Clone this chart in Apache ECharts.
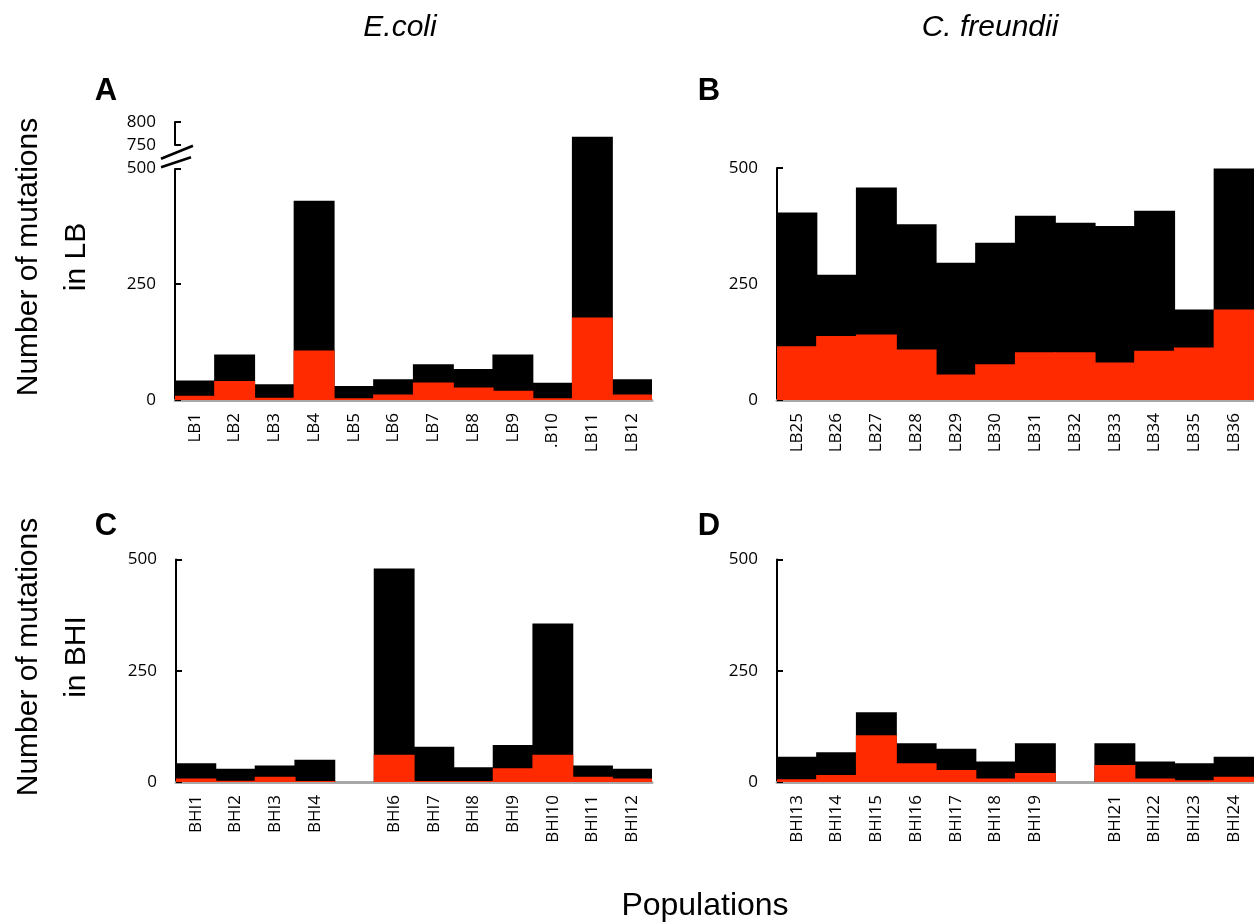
<!DOCTYPE html>
<html><head><meta charset="utf-8">
<script src="https://cdn.jsdelivr.net/npm/echarts@6/dist/echarts.min.js"></script>
<style>html,body{margin:0;padding:0;background:#fff}#c{width:1254px;height:923px}</style>
</head><body><div id="c"></div>
<script>
// ---- data ----
const lbEcoliCats = ['LB1','LB2','LB3','LB4','LB5','LB6','LB7','LB8','LB9','.B10','LB11','LB12'];
const lbEcoliTotal = [42, 98, 34, 430, 30, 45, 77, 67, 98, 37, 768, 45];
const lbEcoliRed   = [9, 41, 5, 107, 4, 12, 38, 27, 20, 4, 178, 12];

const lbCfCats = ['LB25','LB26','LB27','LB28','LB29','LB30','LB31','LB32','LB33','LB34','LB35','LB36'];
const lbCfTotal = [404, 270, 458, 379, 296, 339, 397, 382, 375, 408, 195, 499];
const lbCfRed   = [116, 138, 141, 109, 55, 77, 103, 103, 81, 106, 113, 195];

const bhiEcoliCats = ['BHI1','BHI2','BHI3','BHI4','','BHI6','BHI7','BHI8','BHI9','BHI10','BHI11','BHI12'];
const bhiEcoliTotal = [42, 30, 37, 50, null, 480, 79, 33, 83, 356, 37, 30];
const bhiEcoliRed   = [8, 3, 12, 2, null, 61, 2, 2, 31, 61, 12, 8];

const bhiCfCats = ['BHI13','BHI14','BHI15','BHI16','BHI17','BHI18','BHI19','','BHI21','BHI22','BHI23','BHI24'];
const bhiCfTotal = [57, 67, 157, 87, 75, 46, 87, null, 87, 46, 42, 57];
const bhiCfRed   = [6, 16, 105, 42, 27, 8, 20, null, 38, 8, 4, 12];

const yTicksBreak = [0, 250, 500, 750, 800];
const yTicks = [0, 250, 500];
const axisBreak = {start: 500, end: 750, gap: 50};

// ---- chart ----
const chart = echarts.init(document.getElementById('c'), null, {renderer: 'canvas'});
const BLACK = '#000000', RED = '#ff2a00';
const labelFont = 'Open Sans';

const grids = [
  {left: 175, top: 122, width: 477, height: 278},
  {left: 777, top: 168, width: 478, height: 232},
  {left: 176, top: 559.5, width: 476, height: 222.5},
  {left: 777, top: 559.5, width: 478, height: 222.5}
];
const cats = [lbEcoliCats, lbCfCats, bhiEcoliCats, bhiCfCats];
const totals = [lbEcoliTotal, lbCfTotal, bhiEcoliTotal, bhiCfTotal];
const reds = [lbEcoliRed, lbCfRed, bhiEcoliRed, bhiCfRed];

const xAxes = cats.map((c, i) => ({
  type: 'category', gridIndex: i, data: c, offset: 1,
  axisLine: {show: true, lineStyle: {color: '#a8a8a8', width: 3}},
  axisTick: {show: false},
  axisLabel: {rotate: 90, interval: 0, margin: 12, fontSize: 17, fontFamily: labelFont, color: '#000'}
}));
const yAxes = cats.map((c, i) => {
  const a = {
    type: 'value', gridIndex: i, min: 0, max: 500, interval: 250,
    axisLine: {show: true, lineStyle: {color: '#000', width: 2}},
    axisTick: {show: true, inside: true, length: 6, lineStyle: {color: '#000', width: 2}},
    splitLine: {show: false},
    axisLabel: {fontSize: 17, fontFamily: labelFont, color: '#000', margin: 19}
  };
  if (i === 0) {
    a.max = 800;
    delete a.interval;
    a.breaks = [axisBreak];
    a.breakArea = {show: false};
    a.breakLabelLayout = {moveOverlap: false};
    a.axisLabel.customValues = yTicksBreak;
    a.axisTick.customValues = yTicksBreak;
  }
  return a;
});
const series = [];
cats.forEach((c, i) => {
  series.push({type: 'bar', xAxisIndex: i, yAxisIndex: i, data: totals[i], barWidth: '103%',
    itemStyle: {color: BLACK}, barGap: '-100%', silent: true});
  series.push({type: 'bar', xAxisIndex: i, yAxisIndex: i, data: reds[i], barWidth: '103%',
    itemStyle: {color: RED}, barGap: '-100%', silent: true});
});

chart.setOption({
  animation: false,
  backgroundColor: '#fff',
  grid: grids,
  xAxis: xAxes,
  yAxis: yAxes,
  series: series
});

function txt(x, y, text, font, rot) {
  return {type: 'text', x: x, y: y, rotation: rot || 0, z: 100,
    style: {text: text, font: font, fill: '#000', textAlign: 'center', textVerticalAlign: 'middle', align: 'center', verticalAlign: 'middle'}};
}
const g = [];
const titleFont = 'italic 30px "Liberation Sans"';
const letterFont = 'bold 31px "Liberation Sans"';
const nameFont = '30px "Liberation Sans"';
g.push(txt(400, 28, 'E.coli', titleFont));
g.push(txt(990, 28, 'C. freundii', titleFont));
g.push(txt(106, 91, 'A', letterFont));
g.push(txt(709, 91, 'B', letterFont));
g.push(txt(106, 526, 'C', letterFont));
g.push(txt(709, 526, 'D', letterFont));
g.push(txt(29, 257, 'Number of mutations', nameFont, Math.PI / 2));
g.push(txt(77, 257, 'in LB', nameFont, Math.PI / 2));
g.push(txt(29, 657, 'Number of mutations', nameFont, Math.PI / 2));
g.push(txt(77, 657, 'in BHI', nameFont, Math.PI / 2));
g.push(txt(705, 906, 'Populations', '32px "Liberation Sans"'));

// axis-break marks on panel A
const y500 = chart.convertToPixel({yAxisIndex: 0}, axisBreak.start);
const y750 = chart.convertToPixel({yAxisIndex: 0}, axisBreak.end);
const axX = grids[0].left;
const mid = (y500 + y750) / 2;
g.push({type: 'rect', z: 90, shape: {x: axX - 3, y: y750 + 1.5, width: 6, height: y500 - y750 - 3}, style: {fill: '#fff'}});
g.push({type: 'line', z: 95, shape: {x1: axX - 14, y1: mid + 2, x2: axX + 18, y2: mid - 11}, style: {stroke: '#000', lineWidth: 2.5}});
g.push({type: 'line', z: 95, shape: {x1: axX - 14, y1: mid + 10.5, x2: axX + 16, y2: mid + 0.5}, style: {stroke: '#000', lineWidth: 2.5}});

chart.setOption({graphic: g});
</script>
</body></html>
